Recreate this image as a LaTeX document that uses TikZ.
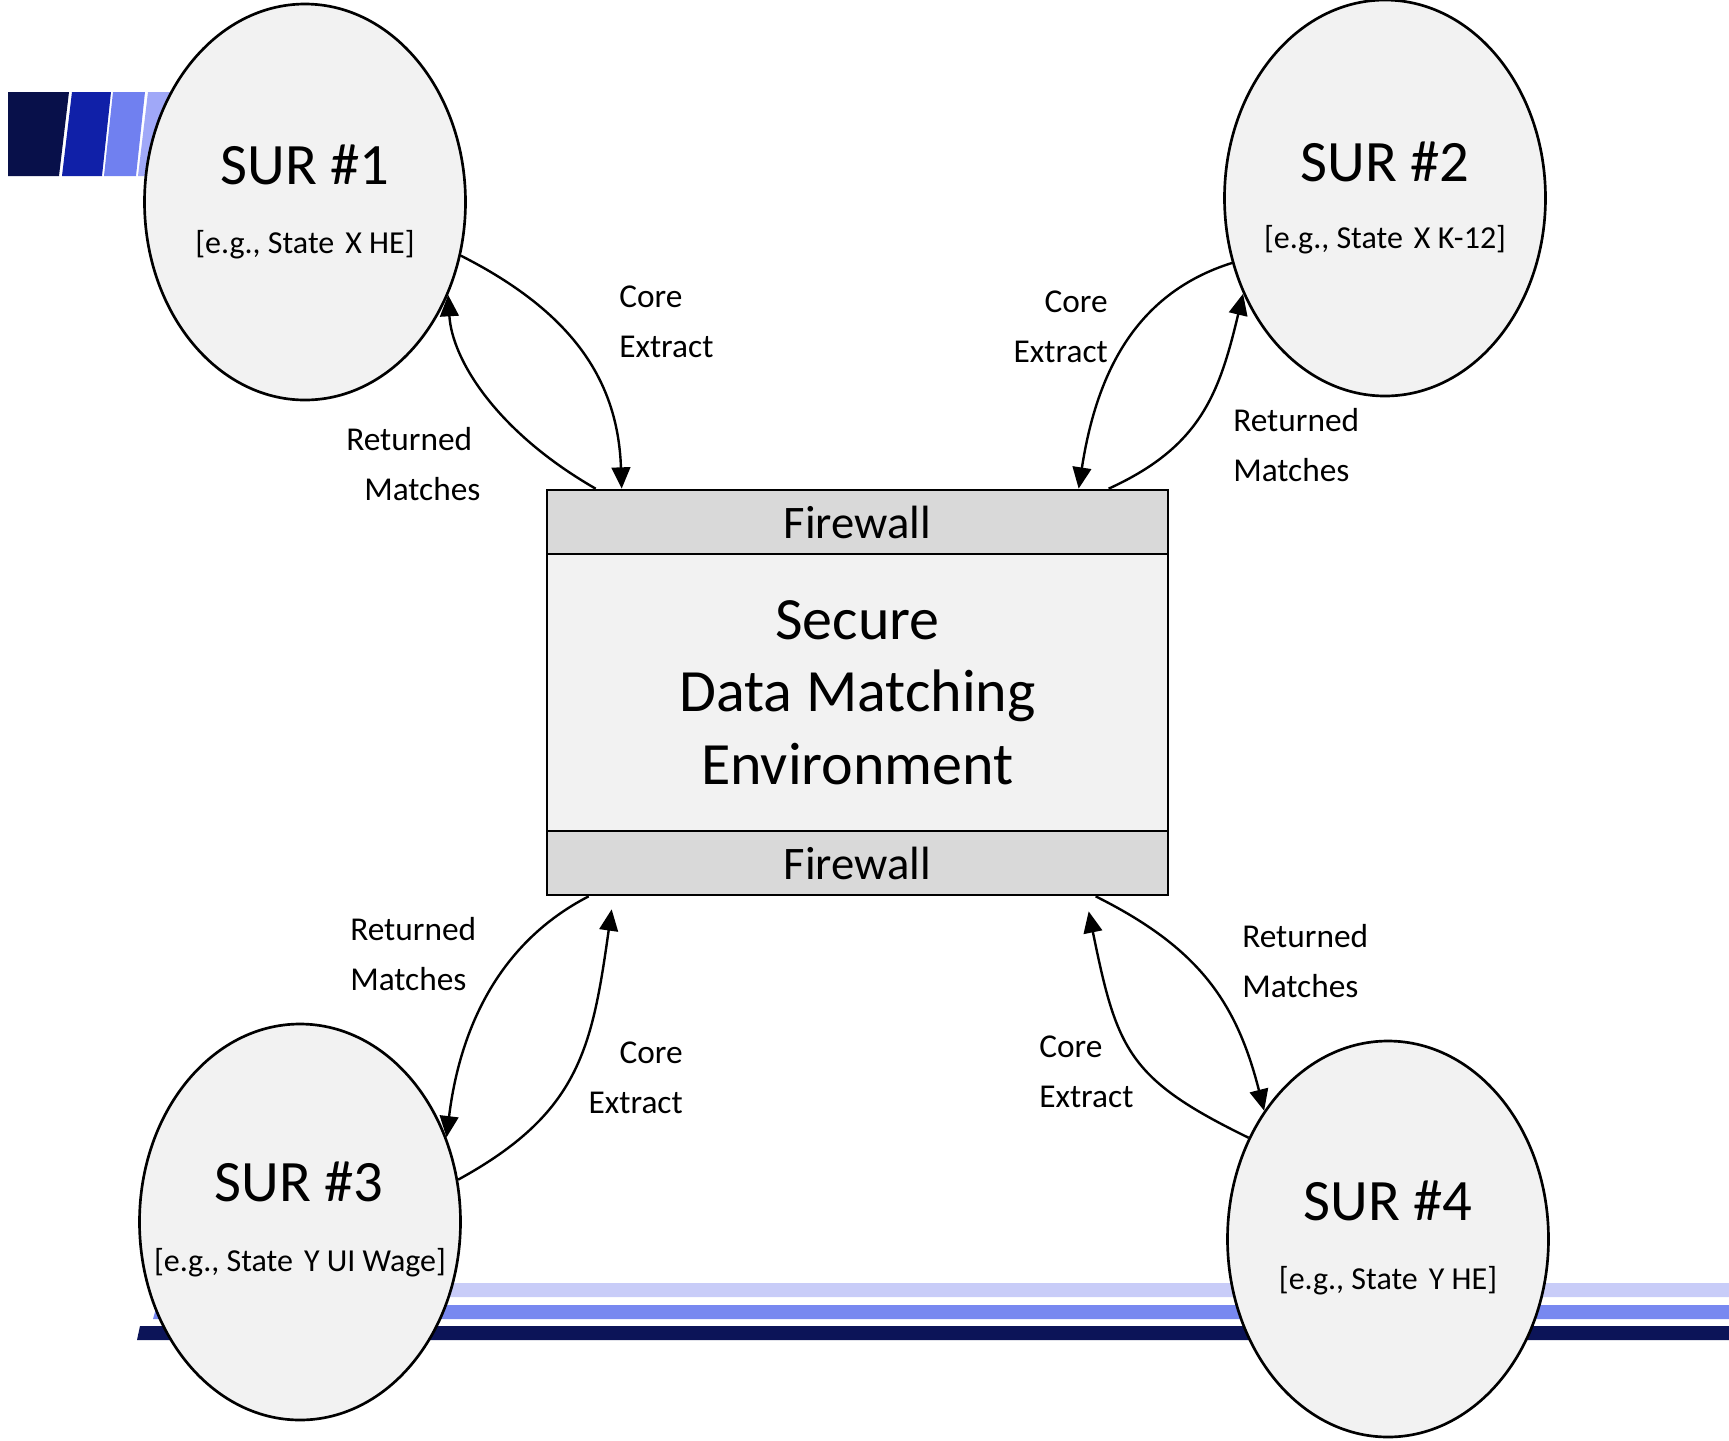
\documentclass[tikz,border=0pt]{standalone}
\usepackage{fontspec}
\setmainfont{Carlito}
\usetikzlibrary{shapes.geometric,arrows.meta,calc}
\definecolor{cfill}{HTML}{F2F2F2}
\definecolor{fwgray}{HTML}{D9D9D9}
\definecolor{bA}{HTML}{08104A}
\definecolor{bB}{HTML}{1020A8}
\definecolor{bC}{HTML}{7080F0}
\definecolor{bD}{HTML}{A0A8F8}
\definecolor{sL}{HTML}{C8CCF8}
\definecolor{sM}{HTML}{7888F0}
\definecolor{sD}{HTML}{0C1458}
\tikzset{
  sur/.style={ellipse, draw=black, line width=2pt, fill=cfill, inner sep=0pt,
    minimum width=240.75pt, minimum height=297pt},
  surtitle/.style={inner sep=0pt, font=\fontsize{44}{53}\selectfont},
  sursub/.style={inner sep=0pt, font=\fontsize{24}{30}\selectfont},
  fwbox/.style={rectangle, draw=black, line width=2pt, fill=fwgray, inner sep=0pt,
    minimum width=465.75pt, minimum height=48pt, font=\fontsize{35}{42}\selectfont},
  mainbox/.style={rectangle, draw=black, line width=2pt, fill=cfill, inner sep=0pt,
    minimum width=465.75pt, minimum height=207.75pt, align=center,
    font=\fontsize{45}{54.5}\selectfont},
  lbl/.style={inner sep=0pt, font=\fontsize{25}{37.5}\selectfont},
  arr/.style={line width=1.8pt, -{Triangle[length=16pt,width=14pt]}}
}
\begin{document}
\begin{tikzpicture}[x=0.75pt,y=-0.75pt]
\useasboundingbox (0,0) rectangle (1729,1440);
% top-left decoration
\fill[bA] (8,92) -- (69,92) -- (59,176) -- (8,176) -- cycle;
\fill[bB] (72,92) -- (111,92) -- (102,176) -- (62,176) -- cycle;
\fill[bC] (113,92) -- (145,92) -- (136,176) -- (104,176) -- cycle;
\fill[bD] (148,92) -- (182,92) -- (172,176) -- (138,176) -- cycle;
% bottom stripes
\fill[sL] (152,1283) -- (1729,1283) -- (1729,1297) -- (150,1297) -- cycle;
\fill[sM] (157,1305) -- (1729,1305) -- (1729,1319) -- (153,1319) -- cycle;
\fill[sD] (140,1326) -- (1729,1326) -- (1729,1340) -- (137,1340) -- cycle;
% central box
\node[fwbox] (fw1) at (857.5,522) {Firewall};
\node[mainbox] (mn) at (857.5,692.5) {Secure\\Data Matching\\Environment};
\node[fwbox] (fw2) at (857.5,863) {Firewall};
% SUR nodes
\node[sur] (s1) at (305,202) {};
\node[surtitle] (t1) at (305,165) {SUR \#1};
\node[sursub] (u1) at (305,245) {[e.g., State\hspace{0.12em} X HE]};
\node[sur] (s2) at (1385,198) {};
\node[surtitle] (t2) at (1385,162) {SUR \#2};
\node[sursub] (u2) at (1385,240) {[e.g., State\hspace{0.12em} X K-12]};
\node[sur] (s3) at (300,1222) {};
\node[surtitle] (t3) at (299,1182) {SUR \#3};
\node[sursub] (u3) at (300,1263) {[e.g., State\hspace{0.12em} Y UI Wage]};
\node[sur] (s4) at (1388,1239) {};
\node[surtitle] (t4) at (1388,1201) {SUR \#4};
\node[sursub] (u4) at (1388,1281) {[e.g., State\hspace{0.12em} Y HE]};
% connectors
\draw[arr] (s1.-19) .. controls (572,312) and (618,380) .. ($(fw1.north west)+(76,0)$);
\draw[arr] ($(fw1.north west)+(50,0)$) .. controls (497,432) and (452,360) .. (s1.-33);
\draw[arr] (s2.203) .. controls (1133,294) and (1096,377) .. ($(fw1.north west)+(533,0)$);
\draw[arr] ($(fw1.north west)+(563,0)$) .. controls (1200,447) and (1219,395) .. (s2.214);
\draw[arr] ($(fw2.south west)+(43,0)$) .. controls (500,942) and (460,1027) .. (s3.30);
\draw[arr] (s3.15) .. controls (580,1113) and (592,1048) .. ($(fw2.south west)+(66,13)$);
\draw[arr] (s4.144) .. controls (1128,1079) and (1117,1050) .. ($(fw2.south west)+(543,15)$);
\draw[arr] ($(fw2.south west)+(550,0)$) .. controls (1197,947) and (1236,1000) .. (s4.134);
% labels
\node[lbl, align=left, anchor=west] (l1) at (619,322) {Core\\Extract};
\node[lbl, align=left, anchor=west] (l2) at (346,464) {Returned\\\hspace*{13.5pt}Matches};
\node[lbl, align=right, anchor=east] (l3) at (1108,327) {Core\\Extract};
\node[lbl, align=left, anchor=west] (l4) at (1233,445) {Returned\\Matches};
\node[lbl, align=left, anchor=west] (l5) at (350,954) {Returned\\Matches};
\node[lbl, align=right, anchor=east] (l6) at (683,1078) {Core\\Extract};
\node[lbl, align=left, anchor=west] (l7) at (1242,961) {Returned\\Matches};
\node[lbl, align=left, anchor=west] (l8) at (1039,1072) {Core\\Extract};
\end{tikzpicture}
\end{document}
